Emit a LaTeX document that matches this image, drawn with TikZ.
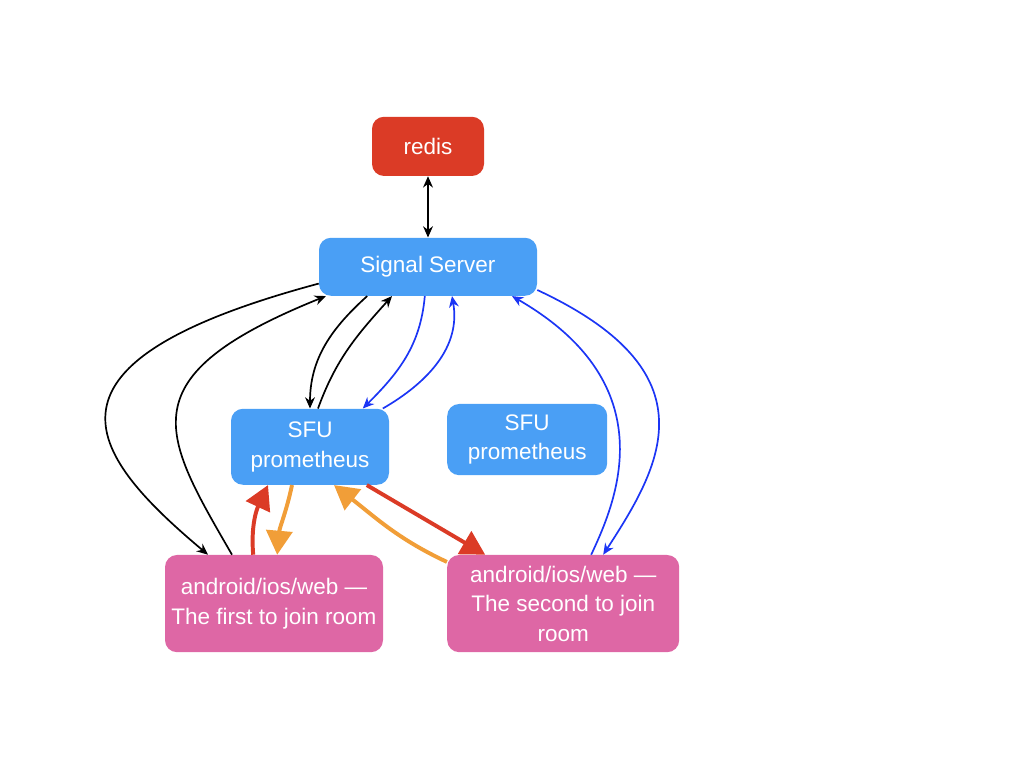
\documentclass[tikz,border=0pt]{standalone}
\usepackage{fontspec}
\setmainfont{Liberation Sans}
\usetikzlibrary{arrows.meta}
\definecolor{redisred}{HTML}{DB3B26}
\definecolor{boxblue}{HTML}{4A9FF5}
\definecolor{clientpink}{HTML}{DE67A5}
\definecolor{linkblue}{HTML}{1B35F5}
\definecolor{chalkorange}{HTML}{F19E38}
\definecolor{chalkred}{HTML}{DB3B26}

\begin{document}
\begin{tikzpicture}[
    box/.style={rounded corners=0.3cm, text=white, align=center, inner sep=0pt,
        font=\fontsize{16}{21}\selectfont},
    sig/.style={line width=1.2pt, -{Stealth[length=8pt,width=7pt]}},
    sigblue/.style={sig, color=linkblue},
    media/.style={line width=2.8pt, -{Triangle[length=0.6cm,width=0.65cm]}}]
    % Area da figura
    \useasboundingbox (0,0) rectangle (25.6,19.2);
    % Redis e servidor de sinalizacao
    \node[box, fill=redisred, minimum width=2.8cm, minimum height=1.48cm] (redis) at (10.7,15.54) {redis};
    \node[box, fill=boxblue, minimum width=5.45cm, minimum height=1.45cm] (ss) at (10.7,12.53) {Signal Server};
    % Servidores SFU
    \node[box, fill=boxblue, minimum width=3.95cm, minimum height=1.9cm] (sfu1) at (7.75,8.03) {SFU\\prometheus};
    \node[box, fill=boxblue, minimum width=4cm, minimum height=1.78cm] (sfu2) at (13.18,8.21) {SFU\\prometheus};
    % Clientes
    \node[box, fill=clientpink, minimum width=5.45cm, minimum height=2.43cm] (first) at (6.85,4.11) {android/ios/web —\\The first to join room};
    \node[box, fill=clientpink, minimum width=5.8cm, minimum height=2.43cm] (second) at (14.08,4.11) {android/ios/web —\\The second to join\\room};
    % Sinalizacao
    \draw[sig, {Stealth[length=8pt,width=7pt]}-{Stealth[length=8pt,width=7pt]}] (redis.south) -- (ss.north);
    \draw[sig] ([yshift=-0.42cm]ss.west) to[out=195, in=140, out distance=7.6cm, in distance=4.05cm] ([xshift=-1.65cm]first.north);
    \draw[sig] ([xshift=-1.05cm]first.north) to[out=120, in=202, out distance=3.5cm, in distance=5.4cm] ([xshift=0.18cm]ss.south west);
    \draw[sig] ([xshift=-1.52cm]ss.south) to[out=222, in=90] (sfu1.north);
    \draw[sig] ([xshift=0.2cm]sfu1.north) to[out=70, in=228] ([xshift=-0.9cm]ss.south);
    \draw[sigblue] ([xshift=-0.08cm]ss.south) to[out=265, in=45] ([xshift=1.32cm]sfu1.north);
    \draw[sigblue] ([xshift=1.82cm]sfu1.north) to[out=30, in=280] ([xshift=0.6cm]ss.south);
    \draw[sigblue] ([yshift=-0.58cm]ss.east) to[out=335, in=57, out distance=4.9cm, in distance=2.65cm] ([xshift=1cm]second.north);
    \draw[sigblue] ([xshift=0.7cm]second.north) to[out=65, in=330, out distance=1.4cm, in distance=4.5cm] ([xshift=2.1cm]ss.south);
    % Midia
    \draw[media, chalkred] ([xshift=-0.52cm]first.north) to[out=95, in=245] ([xshift=-1.05cm]sfu1.south);
    \draw[media, chalkorange] ([xshift=-0.45cm]sfu1.south) to[out=258, in=85] ([xshift=0.08cm]first.north);
    \draw[media, chalkorange] ([yshift=-0.18cm]second.north west) to[out=155, in=322] ([xshift=0.6cm]sfu1.south);
    \draw[media, chalkred] ([xshift=1.42cm]sfu1.south) -- ([xshift=-1.95cm]second.north);
\end{tikzpicture}
\end{document}
